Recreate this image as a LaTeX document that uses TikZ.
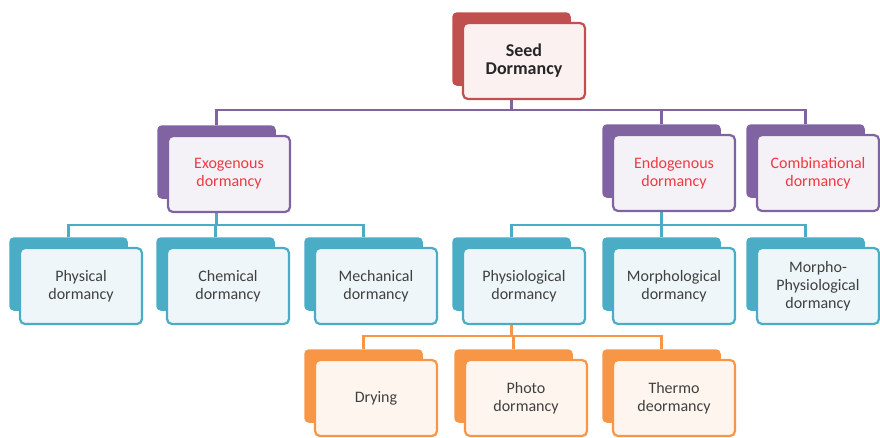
\documentclass[tikz,border=0pt]{standalone}
\usepackage{fontspec}
\setmainfont{Carlito}
\usetikzlibrary{backgrounds}
\definecolor{cred}{HTML}{C0504D}
\definecolor{cpur}{HTML}{8064A2}
\definecolor{cblu}{HTML}{4BACC6}
\definecolor{cora}{HTML}{F79646}
\definecolor{tred}{HTML}{FBF1F1}
\definecolor{tpur}{HTML}{F4F1F7}
\definecolor{tblu}{HTML}{EEF6F9}
\definecolor{tora}{HTML}{FEF5EE}
\definecolor{txtred}{HTML}{EE3B43}
\definecolor{txtgray}{HTML}{404040}
\definecolor{txtdark}{HTML}{262626}
\tikzset{
  backbox/.style={draw=#1, fill=#1, line width=1.5pt, rounded corners=4pt,
    minimum width=117pt, minimum height=72pt, inner sep=0pt},
  frontbox/.style 2 args={draw=#1, fill=#2, line width=2.2pt, rounded corners=5pt,
    minimum width=122pt, minimum height=76pt, inner sep=0pt, align=center,
    font=\fontsize{16}{18}\selectfont},
  conn/.style={draw=#1, line width=2.6pt},
}
\newcommand\dormbox[7]{%
  \node[backbox=#4] (#1B) at (#2+58.5,#3+36) {};
  \node[frontbox={#4}{#5}, text=#6] (#1) at (#2+71,#3+48) {#7};
}
\begin{document}
\begin{tikzpicture}[x=1pt,y=-1pt]
\useasboundingbox (0,0) rectangle (880,437);
\dormbox{top}{453}{13}{cred}{tred}{txtdark}{\fontsize{18}{21}\selectfont\bfseries Seed\\\fontsize{18}{21}\selectfont\bfseries Dormancy}
\dormbox{exo}{158}{126}{cpur}{tpur}{txtred}{Exogenous\\dormancy}
\dormbox{endo}{603}{125}{cpur}{tpur}{txtred}{Endogenous\\dormancy}
\dormbox{comb}{747}{125}{cpur}{tpur}{txtred}{Combinational\\dormancy}
\dormbox{phys}{10}{238}{cblu}{tblu}{txtgray}{Physical\\dormancy}
\dormbox{chem}{157}{238}{cblu}{tblu}{txtgray}{Chemical\\dormancy}
\dormbox{mech}{305}{238}{cblu}{tblu}{txtgray}{Mechanical\\dormancy}
\dormbox{physio}{453}{238}{cblu}{tblu}{txtgray}{Physiological\\dormancy}
\dormbox{morph}{603}{238}{cblu}{tblu}{txtgray}{Morphological\\dormancy}
\dormbox{mphys}{747}{238}{cblu}{tblu}{txtgray}{Morpho-\\Physiological\\dormancy}
\dormbox{dry}{305}{350}{cora}{tora}{txtgray}{Drying}
\dormbox{photo}{455}{350}{cora}{tora}{txtgray}{Photo\\dormancy}
\dormbox{thermo}{603}{350}{cora}{tora}{txtgray}{Thermo\\deormancy}
\coordinate (busA) at (0,110);
\coordinate (busB) at (0,225);
\coordinate (busC) at (0,336);
\begin{scope}[on background layer]
\foreach \c in {exo,endo,comb}
  \draw[conn=cpur] (topB.south) -- (topB.south |- busA) -| (\c B.north);
\foreach \c in {phys,chem,mech}
  \draw[conn=cblu] (exoB.south) -- (exoB.south |- busB) -| (\c B.north);
\foreach \c in {physio,morph,mphys}
  \draw[conn=cblu] (endoB.south) -- (endoB.south |- busB) -| (\c B.north);
\foreach \c in {dry,photo,thermo}
  \draw[conn=cora] (physioB.south) -- (physioB.south |- busC) -| (\c B.north);
\end{scope}
\end{tikzpicture}
\end{document}
